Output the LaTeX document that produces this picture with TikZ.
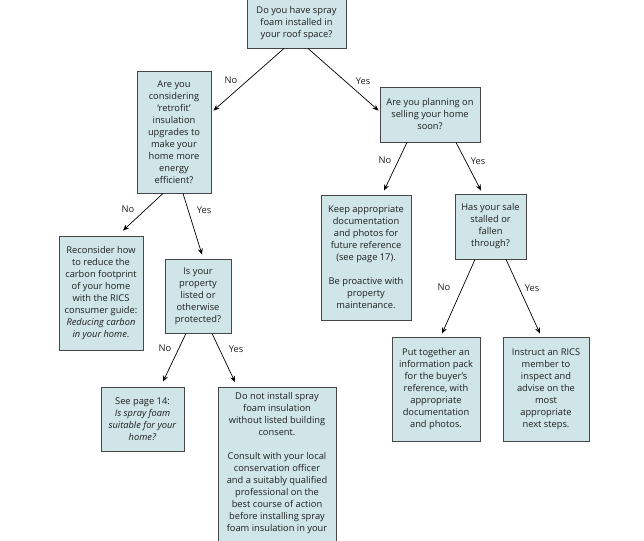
\documentclass[tikz,border=0pt]{standalone}
\usepackage{fontspec}
\setmainfont{Open Sans}
\usetikzlibrary{arrows.meta,calc}
\definecolor{boxfill}{RGB}{207,229,231}
\definecolor{boxline}{RGB}{70,70,70}
\definecolor{txt}{RGB}{30,30,30}
\begin{document}
\begin{tikzpicture}[x=1pt,y=-1pt,
  box/.style={draw=boxline,fill=boxfill,line width=0.9pt,inner sep=0pt,align=center,
    text=txt,font=\fontsize{9.3}{12}\selectfont},
  lbl/.style={font=\fontsize{9.3}{12}\selectfont,inner sep=0pt,text=txt},
  arr/.style={line width=0.7pt,-{Stealth[length=6pt,width=5pt]}}]
\useasboundingbox (0,0) rectangle (644,540);
\clip (0,0) rectangle (644,540);
\fill[white] (0,0) rectangle (644,540);
\node[box,minimum width=99pt,minimum height=50pt] (top) at (296.5,23) {Do you have spray\\foam installed in\\your roof space?};
\node[box,minimum width=74pt,minimum height=122pt] (q1) at (174,132) {Are you\\considering\\‘retrofit’\\insulation\\upgrades to\\make your\\home more\\energy\\efficient?};
\node[box,minimum width=100pt,minimum height=55pt] (q2) at (430,114.5) {Are you planning on\\selling your home\\soon?};
\node[box,minimum width=84pt,minimum height=114pt] (rec) at (101,293) {Reconsider how\\to reduce the\\carbon footprint\\of your home\\with the RICS\\consumer guide:\\\textit{Reducing carbon}\\\textit{in your home}.};
\node[box,minimum width=66pt,minimum height=74pt] (prop) at (198,296) {Is your\\property\\listed or\\otherwise\\protected?};
\node[box,minimum width=90pt,minimum height=125pt] (keep) at (366,257.5) {Keep appropriate\\documentation\\and photos for\\future reference\\(see page 17).\\[12pt]Be proactive with\\property\\maintenance.};
\node[box,minimum width=71pt,minimum height=65pt] (sale) at (490.5,226.5) {Has your sale\\stalled or\\fallen\\through?};
\node[box,minimum width=83pt,minimum height=64pt] (see) at (142.5,419) {See page 14:\\\textit{Is spray foam}\\\textit{suitable for your}\\\textit{home?}};
\node[box,minimum width=118pt,minimum height=180pt,anchor=north] (donot) at (277,387) {};
\node[lbl,align=center,anchor=north] (donottxt) at ($(donot.north)+(0,5)$) {Do not install spray\\foam insulation\\without listed building\\consent.\\[12pt]Consult with your local\\conservation officer\\and a suitably qualified\\professional on the\\best course of action\\before installing spray\\foam insulation in your};
\node[box,minimum width=88pt,minimum height=104pt] (put) at (436,389) {Put together an\\information pack\\for the buyer’s\\reference, with\\appropriate\\documentation\\and photos.};
\node[box,minimum width=86pt,minimum height=104pt] (ins) at (546,389) {Instruct an RICS\\member to\\inspect and\\advise on the\\most\\appropriate\\next steps.};
% arrows
\draw[arr] ($(top.south)+(-12.5,0)$) -- ($(q1.north east)+(2,40)$);
\draw[arr] ($(top.south)+(11.5,0)$) -- ($(q2.north west)+(-1,24)$);
\draw[arr] ($(q1.south)+(-11,0)$) -- ($(rec.north)+(22,-5)$);
\draw[arr] ($(q1.south)+(9,0)$) -- ($(prop.north)+(4,-4)$);
\draw[arr] ($(q2.south)+(-23,0)$) -- ($(keep.north)+(18,-4)$);
\draw[arr] ($(q2.south)+(26,0)$) -- ($(sale.north)+(-9.5,-3)$);
\draw[arr] ($(prop.south)+(-12,0)$) -- ($(see.north)+(20.5,-5)$);
\draw[arr] ($(prop.south)+(14,0)$) -- ($(donot.north)+(-42,-5)$);
\draw[arr] ($(sale.south)+(-15.5,0)$) -- ($(put.north)+(6,-3)$);
\draw[arr] ($(sale.south)+(15.5,0)$) -- ($(ins.north)+(-6,-3)$);
% labels
\node[lbl] (l1) at (231,80) {No};
\node[lbl] (l2) at (363,81) {Yes};
\node[lbl] (l3) at (128,209) {No};
\node[lbl] (l4) at (204,210) {Yes};
\node[lbl] (l5) at (385,160) {No};
\node[lbl] (l6) at (478,161) {Yes};
\node[lbl] (l7) at (165,348) {No};
\node[lbl] (l8) at (236,349) {Yes};
\node[lbl] (l9) at (444,287) {No};
\node[lbl] (l10) at (532,288) {Yes};
\end{tikzpicture}
\end{document}
